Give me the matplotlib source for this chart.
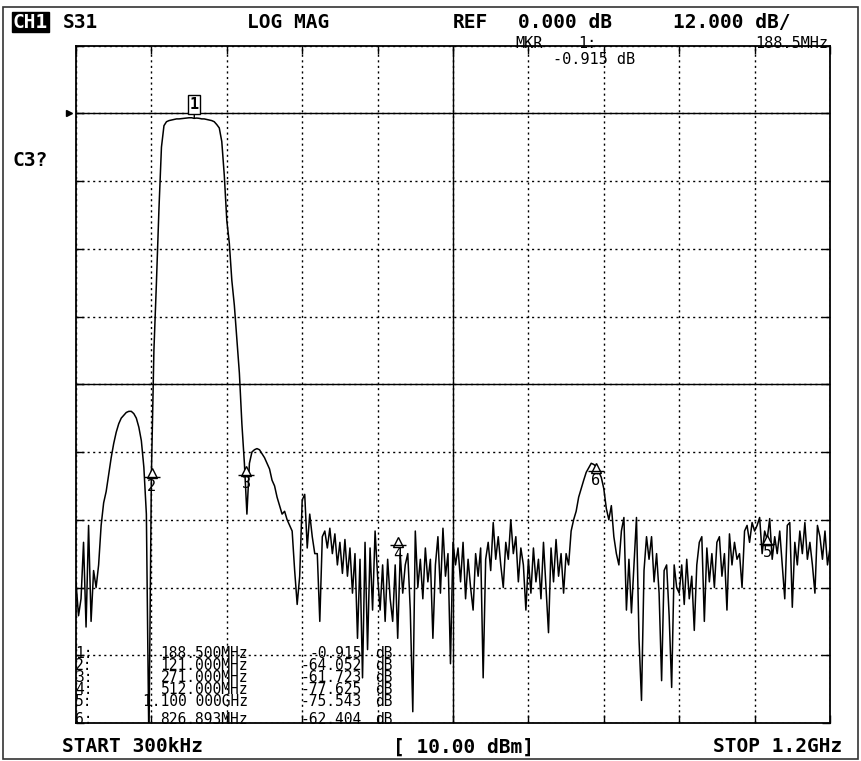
import numpy as np
import matplotlib.pyplot as plt
from matplotlib.patches import Rectangle
from matplotlib.transforms import offset_copy, blended_transform_factory

W, H = 861, 761

# sweep settings (from the START / STOP / REF / scale labels)
start_mhz = 0.3
stop_mhz = 1200.0
ref_db = 0.0
scale_db = 12.0

# S31 trace, dB (301 sweep points)
trace_db = [
    -83, -89, -86, -76, -91, -73, -90, -81, -84, -80,
    -73, -69, -67, -64, -61, -58.5, -56.5, -55, -54, -53.5,
    -53, -52.8, -52.8, -53.2, -54, -55.6, -58, -62.7, -71, -112,
    -64, -42, -30, -17, -6, -2.2, -1.5, -1.3, -1.2, -1.1,
    -1.0, -1.0, -0.95, -0.9, -0.85, -0.8, -0.8, -0.9, -0.85, -0.9,
    -1.0, -1.0, -1.1, -1.2, -1.3, -1.5, -2.0, -2.6, -5, -11,
    -19, -23, -29.6, -34, -40, -46, -55, -62, -71, -62,
    -60, -59.6, -59.4, -59.6, -60.3, -61, -62, -63, -65, -66,
    -68, -69.5, -71, -70.5, -72, -73, -74, -81, -87, -82,
    -68.5, -67.5, -77, -71, -75, -78, -78, -90, -75, -74,
    -77, -73.5, -78, -74.5, -80, -76, -81.5, -75.5, -82, -77,
    -85, -78, -93, -79, -100, -76, -95, -77, -88, -74,
    -82, -88, -80, -90, -79, -86, -90, -80, -93, -78,
    -85, -80, -78, -88, -106, -74, -84, -79, -86, -77,
    -83, -79, -93, -80, -75, -85, -73.5, -82, -78, -97.5,
    -76, -80, -77, -83, -76, -86, -79, -84, -88, -78,
    -82, -77, -100, -79, -76, -81, -72.5, -79, -75, -80,
    -84, -76, -79, -72, -78, -75, -83, -77, -80, -88,
    -79, -85, -77, -83, -79, -86, -76, -84, -92, -77,
    -83, -75.5, -82, -78, -85, -78, -80, -74, -72, -70.5,
    -68, -66.5, -65, -63.6, -62.8, -62, -62.2, -62.6, -63.5, -64.5,
    -66.5, -70, -72, -69.5, -75, -78, -80, -74, -71.6, -88,
    -79, -88.5, -80, -71.6, -93, -104, -81, -75, -79, -75,
    -83, -78, -85, -100.5, -81, -80, -89, -101.7, -80, -84,
    -85, -80, -87, -79, -86, -82, -91.6, -80, -76, -75,
    -90, -77, -83, -78, -84, -76, -75, -82, -78, -88,
    -74.5, -80, -76, -79, -78, -84, -74, -73, -76, -72.5,
    -74, -73, -71.6, -78, -74, -75.5, -71.8, -79, -75, -78,
    -74, -80, -86, -73, -72.5, -87.5, -76, -80, -74, -78,
    -72.5, -79, -76, -80, -85, -73, -75, -79, -74, -80,
    -77,
]
freq_mhz = np.linspace(start_mhz, stop_mhz, len(trace_db))

# markers
mkr_id = ["1", "2", "3", "4", "5", "6"]
mkr_freq = [188.5, 121.0, 271.0, 512.0, 1100.0, 826.893]
mkr_db = [-0.915, -64.052, -61.723, -77.625, -75.543, -62.404]
mkr_freq_txt = ["188.500MHz", "121.000MHz", "271.000MHz", "512.000MHz",
                "1.100 000GHz", "826.893MHz"]
mkr_db_txt = ["-0.915", "-64.052", "-61.723", "-77.625", "-75.543", "-62.404"]
# screen offset (px, down) of the triangle symbol for markers 2..6
mkr_dy = [0, -2, 9, -10, 0, 2]

MONO = "DejaVu Sans Mono"


def fx(x):
    return x / W


def fy(y):
    return 1 - y / H


fig = plt.figure(figsize=(W / 100, H / 100), dpi=100)
fig.patches.append(Rectangle((fx(3), fy(759)), 855 / W, 752 / H,
                             transform=fig.transFigure, fill=False,
                             ec="#333333", lw=1.2))

ax = fig.add_axes([fx(76), fy(723), 754 / W, 677.5 / H])
ax.set_xlim(start_mhz, stop_mhz)
ax.set_ylim(ref_db - 9 * scale_db, ref_db + scale_db)
ax.set_xticks(np.linspace(start_mhz, stop_mhz, 11))
ax.set_yticks(np.arange(ref_db - 9 * scale_db, ref_db + scale_db + 1, scale_db))
ax.grid(True, color="black", linestyle=(0, (1.5, 2.5)), linewidth=1.0)
ax.tick_params(direction="in", length=6, width=1, top=True, right=True,
               labelbottom=False, labelleft=False)
for s in ax.spines.values():
    s.set_linewidth(1.3)
ax.axhline(ref_db, color="black", lw=1.0)
ax.axhline(ref_db - 4 * scale_db, color="black", lw=1.0)
ax.axvline((start_mhz + stop_mhz) / 2, color="black", lw=1.0)

ax.plot(freq_mhz, trace_db, color="black", lw=1.1, zorder=4)

# reference position pointer
tr = blended_transform_factory(ax.transAxes, ax.transData)
ax.plot([-0.009], [ref_db], marker=">", ms=5, color="black",
        transform=tr, clip_on=False)

# marker 1: boxed number
ax.annotate(mkr_id[0], (mkr_freq[0], mkr_db[0]), xytext=(0, 10),
            textcoords="offset points", ha="center", va="center",
            family=MONO, fontsize=11, fontweight="bold",
            bbox=dict(boxstyle="square,pad=0.1", fc="white", ec="black", lw=1),
            arrowprops=dict(arrowstyle="-", color="black", lw=1,
                            shrinkA=0, shrinkB=0), zorder=6)

# markers 2..6: open triangle with bar and number below
for k in range(1, len(mkr_id)):
    dy = -mkr_dy[k] * 0.72
    t1 = offset_copy(ax.transData, fig=fig, x=0, y=dy, units="points")
    t2 = offset_copy(ax.transData, fig=fig, x=0, y=dy - 2.8, units="points")
    ax.plot([mkr_freq[k]], [mkr_db[k]], marker="^", ms=7, mfc="white",
            mec="black", mew=1, transform=t1, zorder=6)
    ax.plot([mkr_freq[k]], [mkr_db[k]], marker="_", ms=11, mec="black",
            mew=1, transform=t2, zorder=6)
    ax.annotate(mkr_id[k], (mkr_freq[k], mkr_db[k]),
                xytext=(0, dy - 9.5), textcoords="offset points",
                ha="center", va="center", family=MONO, fontsize=11, zorder=6)

# header
hdr = dict(family=MONO, fontsize=14, fontweight="bold", va="center")
fig.text(fx(13), fy(22), "CH1", color="white",
         bbox=dict(boxstyle="square,pad=0.05", fc="black", ec="black"), **hdr)
fig.text(fx(63), fy(22), "S31", **hdr)
fig.text(fx(247), fy(22), "LOG MAG", **hdr)
fig.text(fx(453), fy(22), "REF", **hdr)
fig.text(fx(518), fy(22), "0.000 dB", **hdr)
fig.text(fx(673), fy(22), "12.000 dB/", **hdr)
fig.text(fx(12), fy(160), "C3?", **hdr)

# active marker readout
small = dict(family=MONO, fontsize=11, va="center")
fig.text(fx(515), fy(44), "MKR", **small)
fig.text(fx(578), fy(44), "1:", **small)
fig.text(fx(828), fy(44), "188.5MHz", ha="right", **small)
fig.text(fx(553), fy(59), "-0.915 dB", **small)

# marker table: rows 1-5 as column blocks, row 6 on the bottom edge
tbl = dict(family=MONO, fontsize=10.5, va="top", linespacing=0.76)
n = 5
fig.text(fx(75), fy(646), "\n".join(i + ":" for i in mkr_id[:n]), **tbl)
fig.text(fx(248), fy(646), "\n".join(mkr_freq_txt[:n]), ha="right",
         multialignment="right", **tbl)
fig.text(fx(362), fy(646), "\n".join(mkr_db_txt[:n]), ha="right",
         multialignment="right", **tbl)
fig.text(fx(375), fy(646), "\n".join(["dB"] * n), **tbl)
row6 = dict(family=MONO, fontsize=10.5, va="center")
fig.text(fx(75), fy(720), mkr_id[5] + ":", **row6)
fig.text(fx(248), fy(720), mkr_freq_txt[5], ha="right", **row6)
fig.text(fx(362), fy(720), mkr_db_txt[5], ha="right", **row6)
fig.text(fx(375), fy(720), "dB", **row6)

# footer
fig.text(fx(62), fy(747), "START 300kHz", **hdr)
fig.text(fx(393), fy(747), "[ 10.00 dBm]", **hdr)
fig.text(fx(842), fy(747), "STOP 1.2GHz", ha="right", **hdr)

fig.savefig("out.png", dpi=100, facecolor="white")
